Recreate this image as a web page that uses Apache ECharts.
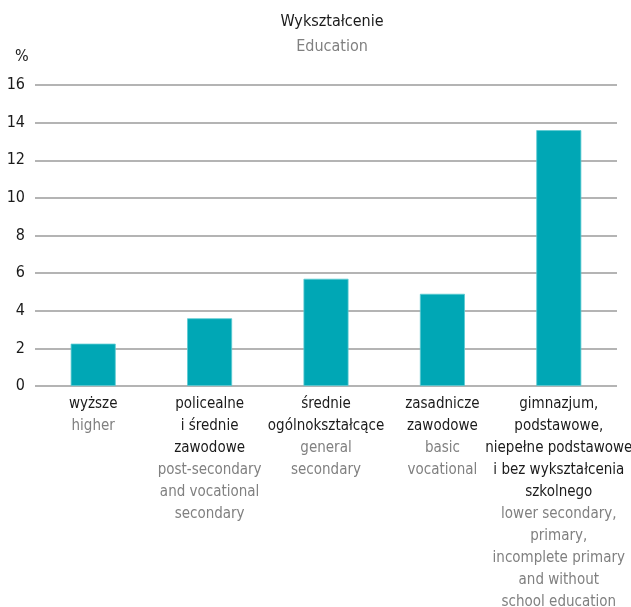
<!DOCTYPE html>
<html>
<head>
<meta charset="utf-8">
<script src="https://cdn.jsdelivr.net/npm/echarts@6/dist/echarts.min.js"></script>
<style>
html,body{margin:0;padding:0;background:#fff;}
#chart{width:631px;height:607px;}
</style>
</head>
<body>
<div id="chart"></div>
<script>
const categories = ['higher', 'postsec', 'general', 'basic', 'lower'];
const labelsPL = [
  ['wyższe'],
  ['policealne', 'i średnie', 'zawodowe'],
  ['średnie', 'ogólnokształcące'],
  ['zasadnicze', 'zawodowe'],
  ['gimnazjum,', 'podstawowe,', 'niepełne podstawowe', 'i bez wykształcenia', 'szkolnego']
];
const labelsEN = [
  ['higher'],
  ['post-secondary', 'and vocational', 'secondary'],
  ['general', 'secondary'],
  ['basic', 'vocational'],
  ['lower secondary,', 'primary,', 'incomplete primary', 'and without', 'school education']
];
const values = [2.25, 3.6, 5.7, 4.9, 13.6];
const yTicks = { min: 0, max: 16, interval: 2 };

const FONT = '"Liberation Sans Narrow", "DejaVu Sans Condensed", "Roboto Condensed", sans-serif';
const chart = echarts.init(document.getElementById('chart'), null, { renderer: 'canvas' });
chart.setOption({
  backgroundColor: '#fff',
  animation: false,
  title: [
    {
      text: 'Wykształcenie',
      subtext: 'Education',
      left: 327,
      top: 9,
      textAlign: 'center',
      itemGap: 9,
      textStyle: { fontFamily: FONT, fontSize: 16, fontWeight: 'normal', color: '#1a1a1a' },
      subtextStyle: { fontFamily: FONT, fontSize: 16, color: '#808080' }
    },
    {
      text: '%',
      left: 10,
      top: 44,
      textStyle: { fontFamily: FONT, fontSize: 16, fontWeight: 'normal', color: '#1a1a1a' }
    }
  ],
  grid: { left: 35, right: 14, top: 85, bottom: 221, containLabel: false, outerBoundsMode: 'none' },
  xAxis: {
    type: 'category',
    data: categories,
    axisLine: { show: false },
    axisTick: { show: false },
    axisLabel: {
      interval: 0,
      margin: 7,
      lineHeight: 22,
      formatter: function (v, i) {
        const a = labelsPL[i].map(s => '{a|' + s + '}');
        const b = labelsEN[i].map(s => '{b|' + s + '}');
        return a.concat(b).join('\n');
      },
      rich: {
        a: { fontFamily: FONT, fontSize: 15, color: '#1a1a1a', lineHeight: 22, align: 'center' },
        b: { fontFamily: FONT, fontSize: 15, color: '#808080', lineHeight: 22, align: 'center' }
      }
    }
  },
  yAxis: {
    type: 'value',
    min: yTicks.min,
    max: yTicks.max,
    interval: yTicks.interval,
    axisLine: { show: false },
    axisTick: { show: false },
    axisLabel: { fontFamily: FONT, fontSize: 16, color: '#1a1a1a', margin: 10 },
    splitLine: { lineStyle: { color: '#9b9b9b', width: 1.5 } }
  },
  series: [{
    type: 'bar',
    data: values,
    barWidth: 45,
    itemStyle: { color: '#00a7b5', borderColor: '#5ccad2', borderWidth: 0.8 },
    z: 3
  }]
});
</script>
</body>
</html>
